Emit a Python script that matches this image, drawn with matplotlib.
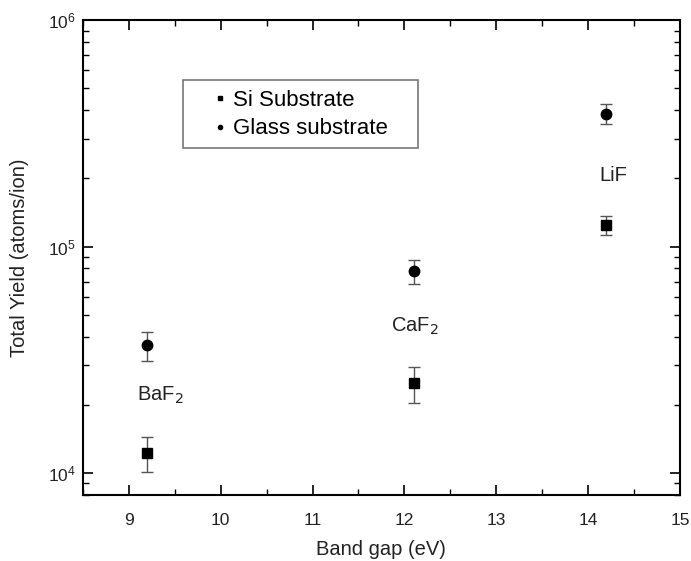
import matplotlib.pyplot as plt
from matplotlib.patches import Rectangle
from matplotlib.ticker import LogLocator, NullFormatter

# band gap (eV) for each target
band_gap = [9.2, 12.1, 14.2]
materials = ["BaF$_2$", "CaF$_2$", "LiF"]

# total yield (atoms/ion)
si_yield = [1.23e4, 2.50e4, 1.25e5]
si_err_low = [0.22e4, 0.46e4, 0.12e5]
si_err_high = [0.21e4, 0.44e4, 0.12e5]

glass_yield = [3.68e4, 7.83e4, 3.84e5]
glass_err_low = [0.55e4, 0.97e4, 0.37e5]
glass_err_high = [0.53e4, 0.92e4, 0.41e5]

label_pos = [(9.34, 2.19e4), (12.11, 4.43e4), (14.28, 2.06e5)]


def main():
    plt.rcParams["font.family"] = ["Liberation Sans", "DejaVu Sans"]
    fig = plt.figure(figsize=(6.91, 5.61), dpi=100)
    ax = fig.add_axes([0.120, 0.118, 0.864, 0.846])

    ax.errorbar(band_gap, si_yield, yerr=[si_err_low, si_err_high],
                fmt="s", color="black", ms=7, ecolor="#555555", elinewidth=1,
                capsize=4, capthick=1, label="Si Substrate")
    ax.errorbar(band_gap, glass_yield, yerr=[glass_err_low, glass_err_high],
                fmt="o", color="black", ms=7.5, ecolor="#555555", elinewidth=1,
                capsize=4, capthick=1, label="Glass substrate")

    for name, (x, y) in zip(materials, label_pos):
        ax.text(x, y, name, ha="center", va="center", fontsize=14.5, color="#222222")

    ax.set_yscale("log")
    ax.set_xlim(8.5, 15)
    ax.set_ylim(8.0e3, 1e6)
    ax.set_xticks([9, 10, 11, 12, 13, 14, 15])
    ax.set_xticks([8.5, 9.5, 10.5, 11.5, 12.5, 13.5, 14.5], minor=True)
    ax.yaxis.set_minor_locator(LogLocator(base=10, subs=range(2, 10)))
    ax.yaxis.set_minor_formatter(NullFormatter())
    ax.tick_params(which="both", direction="in", top=True, right=True,
                   labelsize=12.5, labelcolor="#222222")
    ax.tick_params(axis="x", which="both", pad=13)
    ax.tick_params(axis="y", which="both", pad=5)
    ax.tick_params(which="major", length=7, width=1.2)
    ax.tick_params(which="minor", length=4, width=1)
    for s in ax.spines.values():
        s.set_linewidth(1.5)

    ax.set_xlabel("Band gap (eV)", fontsize=14.5, color="#222222", labelpad=9)
    ax.set_ylabel("Total Yield (atoms/ion)", fontsize=14.5, color="#222222", labelpad=14)

    # legend box drawn on its own, wider than the entries
    ax.add_patch(Rectangle((0.1675, 0.731), 0.394, 0.143, transform=ax.transAxes,
                           facecolor="white", edgecolor="#777777", lw=1.2, zorder=4))
    handles, labels = ax.get_legend_handles_labels()
    handles = [h[0] for h in handles]
    leg = ax.legend(handles, labels, loc="upper left", bbox_to_anchor=(0.201, 0.875),
                    fontsize=16, markerscale=0.4, frameon=False, handlelength=0.6,
                    handletextpad=0.3, borderpad=0.45, labelspacing=0.35,
                    borderaxespad=0)
    leg.set_zorder(5)

    fig.savefig("out.png", dpi=100)


if __name__ == "__main__":
    main()
